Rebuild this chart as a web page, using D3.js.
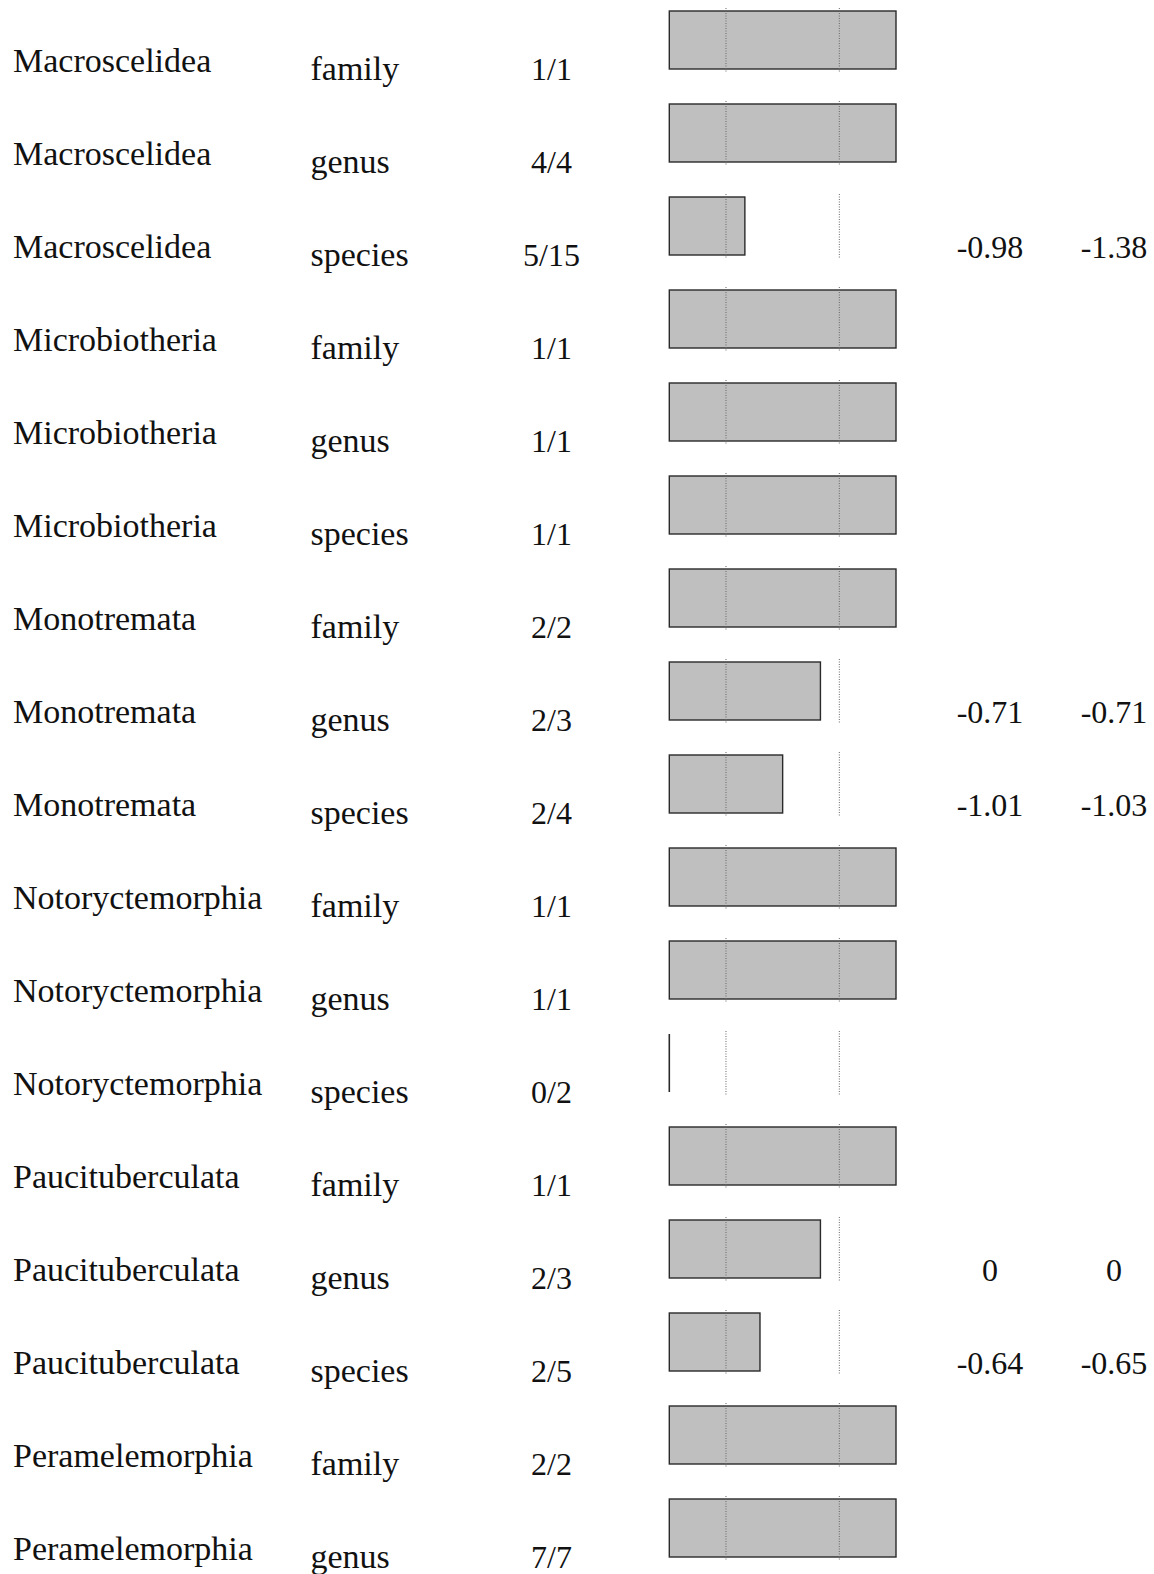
<!DOCTYPE html>
<html>
<head>
<meta charset="utf-8">
<script src="https://cdn.jsdelivr.net/npm/d3@7"></script>
<style>
  html, body { margin: 0; padding: 0; background: #fff; }
  svg { display: block; }
  text { font-family: "Liberation Serif", "Times New Roman", serif; fill: #111; }
</style>
</head>
<body>
<svg id="chart" width="1154" height="1574"></svg>
<script>
const orders = ["Macroscelidea","Macroscelidea","Macroscelidea","Microbiotheria","Microbiotheria","Microbiotheria","Monotremata","Monotremata","Monotremata","Notoryctemorphia","Notoryctemorphia","Notoryctemorphia","Paucituberculata","Paucituberculata","Paucituberculata","Peramelemorphia","Peramelemorphia"];
const ranks = ["family","genus","species","family","genus","species","family","genus","species","family","genus","species","family","genus","species","family","genus"];
const matched = [1,4,5,1,1,1,2,2,2,1,1,0,1,2,2,2,7];
const totals  = [1,4,15,1,1,1,2,3,4,1,1,2,1,3,5,2,7];
const valueA = [null,null,"-0.98",null,null,null,null,"-0.71","-1.01",null,null,null,null,"0","-0.64",null,null];
const valueB = [null,null,"-1.38",null,null,null,null,"-0.71","-1.03",null,null,null,null,"0","-0.65",null,null];
const guideTicks = [0.25, 0.75];

const rows = orders.map((o, i) => ({
  order: o, rank: ranks[i], m: matched[i], t: totals[i],
  frac: matched[i] / totals[i], a: valueA[i], b: valueB[i], i
}));

const svg = d3.select("#chart");
const y = d3.scaleLinear().domain([0, 1]).range([11, 11 + 93.0]);
const x = d3.scaleLinear().domain([0, 1]).range([669.3, 896]);
const barH = 58;

const g = svg.selectAll("g.row").data(rows).join("g")
  .attr("class", "row")
  .attr("transform", d => `translate(0,${y(d.i)})`);

g.append("text").attr("x", 13).attr("y", 61)
  .style("font-size", "34px").text(d => d.order);
g.append("text").attr("x", 310.5).attr("y", 68.5)
  .style("font-size", "34px").text(d => d.rank);
g.append("text").attr("x", 551.5).attr("y", 68.5)
  .attr("text-anchor", "middle")
  .style("font-size", "32px").text(d => `${d.m}/${d.t}`);

g.filter(d => d.frac > 0).append("rect")
  .attr("x", x(0)).attr("y", 0)
  .attr("width", d => x(d.frac) - x(0)).attr("height", barH)
  .attr("fill", "#bfbfbf")
  .attr("stroke", "#2a2a2a").attr("stroke-width", 1.4);

g.filter(d => d.frac === 0).append("line")
  .attr("x1", d => x(d.frac)).attr("x2", d => x(d.frac))
  .attr("y1", 0).attr("y2", barH)
  .attr("stroke", "#2a2a2a").attr("stroke-width", 1.6);

g.selectAll("line.guide").data(guideTicks).join("line")
  .attr("class", "guide")
  .attr("x1", t => x(t)).attr("x2", t => x(t))
  .attr("y1", -3).attr("y2", barH + 3)
  .attr("stroke", "#666").attr("stroke-width", 1)
  .attr("stroke-dasharray", "1,1.5");

g.filter(d => d.a !== null).append("text")
  .attr("x", 990).attr("y", 61).attr("text-anchor", "middle")
  .style("font-size", "32px").text(d => d.a);
g.filter(d => d.b !== null).append("text")
  .attr("x", 1114).attr("y", 61).attr("text-anchor", "middle")
  .style("font-size", "32px").text(d => d.b);
</script>
</body>
</html>
